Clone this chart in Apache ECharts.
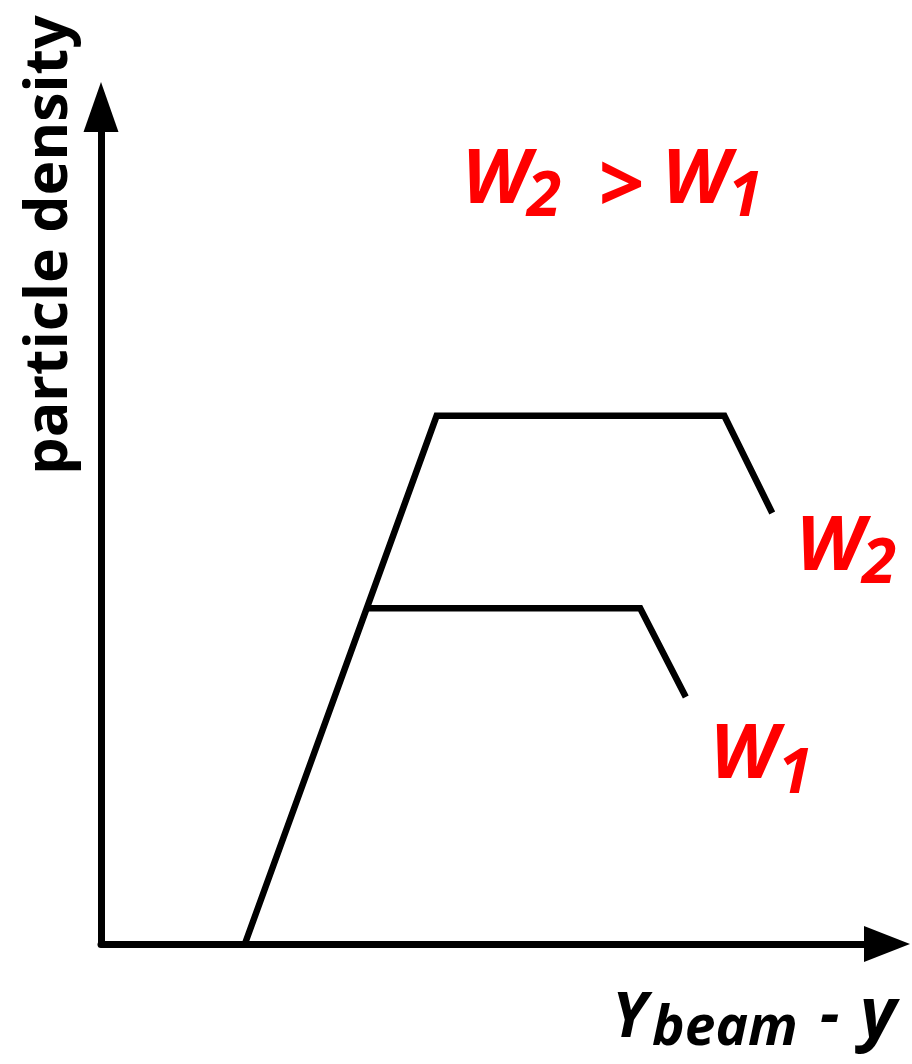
<!DOCTYPE html>
<html>
<head>
<meta charset="utf-8">
<script src="https://cdn.jsdelivr.net/npm/echarts@6/dist/echarts.min.js"></script>
<style>
  html, body { margin: 0; padding: 0; background: #fff; }
  #chart { width: 912px; height: 1064px; }
</style>
</head>
<body>
<div id="chart"></div>
<script>
// Rapidity-plateau sketch: particle density vs. (Y_beam - y) for two energies
const w2X = [18.3, 42.7, 79.3, 85.4];
const w2Y = [0, 63.1, 63.1, 51.5];
const w1X = [33.8, 68.6, 74.4];
const w1Y = [40.1, 40.1, 29.5];

const axisMin = 0;
const axisMax = 100;

const FONT = '"Open Sans", "DejaVu Sans", sans-serif';
const RED = '#ff0000';

function pairs(xs, ys) {
  return xs.map((x, i) => [x, ys[i]]);
}

function txt(text, x, y, size, color, extra) {
  return Object.assign({
    type: 'text',
    x: x,
    y: y,
    silent: true,
    style: {
      text: text,
      fill: color,
      font: 'italic bold ' + size + 'px ' + FONT,
      textAlign: 'left',
      textVerticalAlign: 'top'
    }
  }, extra || {});
}

const chart = echarts.init(document.getElementById('chart'), null, { renderer: 'canvas' });

const axisLine = {
  show: true,
  lineStyle: { color: '#000', width: 7 },
  symbol: ['none', 'triangle']
};

chart.setOption({
  animation: false,
  backgroundColor: '#fff',
  grid: { left: 101, right: 25, top: 107, bottom: 120, containLabel: false },
  xAxis: {
    type: 'value',
    min: axisMin,
    max: axisMax,
    axisLine: Object.assign({}, axisLine, { symbolSize: [36, 46] }),
    axisTick: { show: false },
    axisLabel: { show: false },
    splitLine: { show: false }
  },
  yAxis: {
    type: 'value',
    min: axisMin,
    max: axisMax,
    axisLine: Object.assign({}, axisLine, { symbolSize: [35, 50] }),
    axisTick: { show: false },
    axisLabel: { show: false },
    splitLine: { show: false }
  },
  series: [
    {
      name: 'W2',
      type: 'line',
      data: pairs(w2X, w2Y),
      symbol: 'none',
      lineStyle: { color: '#000', width: 6.5, cap: 'butt', join: 'miter' },
      z: 3
    },
    {
      name: 'W1',
      type: 'line',
      data: pairs(w1X, w1Y),
      symbol: 'none',
      lineStyle: { color: '#000', width: 6.5, cap: 'butt', join: 'miter' },
      z: 3
    }
  ],
  graphic: [
    // y axis title, reading bottom to top
    {
      type: 'text',
      x: 50,
      y: 245,
      rotation: Math.PI / 2,
      silent: true,
      style: {
        text: 'particle density',
        fill: '#000',
        font: 'bold 59px ' + FONT,
        textAlign: 'center',
        textVerticalAlign: 'middle'
      }
    },
    // x axis title: Y_beam - y
    txt('Y', 612, 988, 62, '#000'),
    txt('beam', 652, 1002, 55, '#000'),
    txt('-', 820, 988, 60, '#000'),
    txt('y', 860, 982, 70, '#000'),
    // headline W2 > W1
    txt('W', 462, 143, 76, RED),
    txt('2', 527, 167, 62, RED),
    txt('>', 598, 149, 80, RED),
    txt('W', 662, 143, 76, RED),
    txt('1', 728, 167, 62, RED),
    // curve labels
    txt('W', 796, 510, 76, RED),
    txt('2', 862, 534, 62, RED),
    txt('W', 710, 718, 76, RED),
    txt('1', 778, 744, 62, RED)
  ]
});
</script>
</body>
</html>
